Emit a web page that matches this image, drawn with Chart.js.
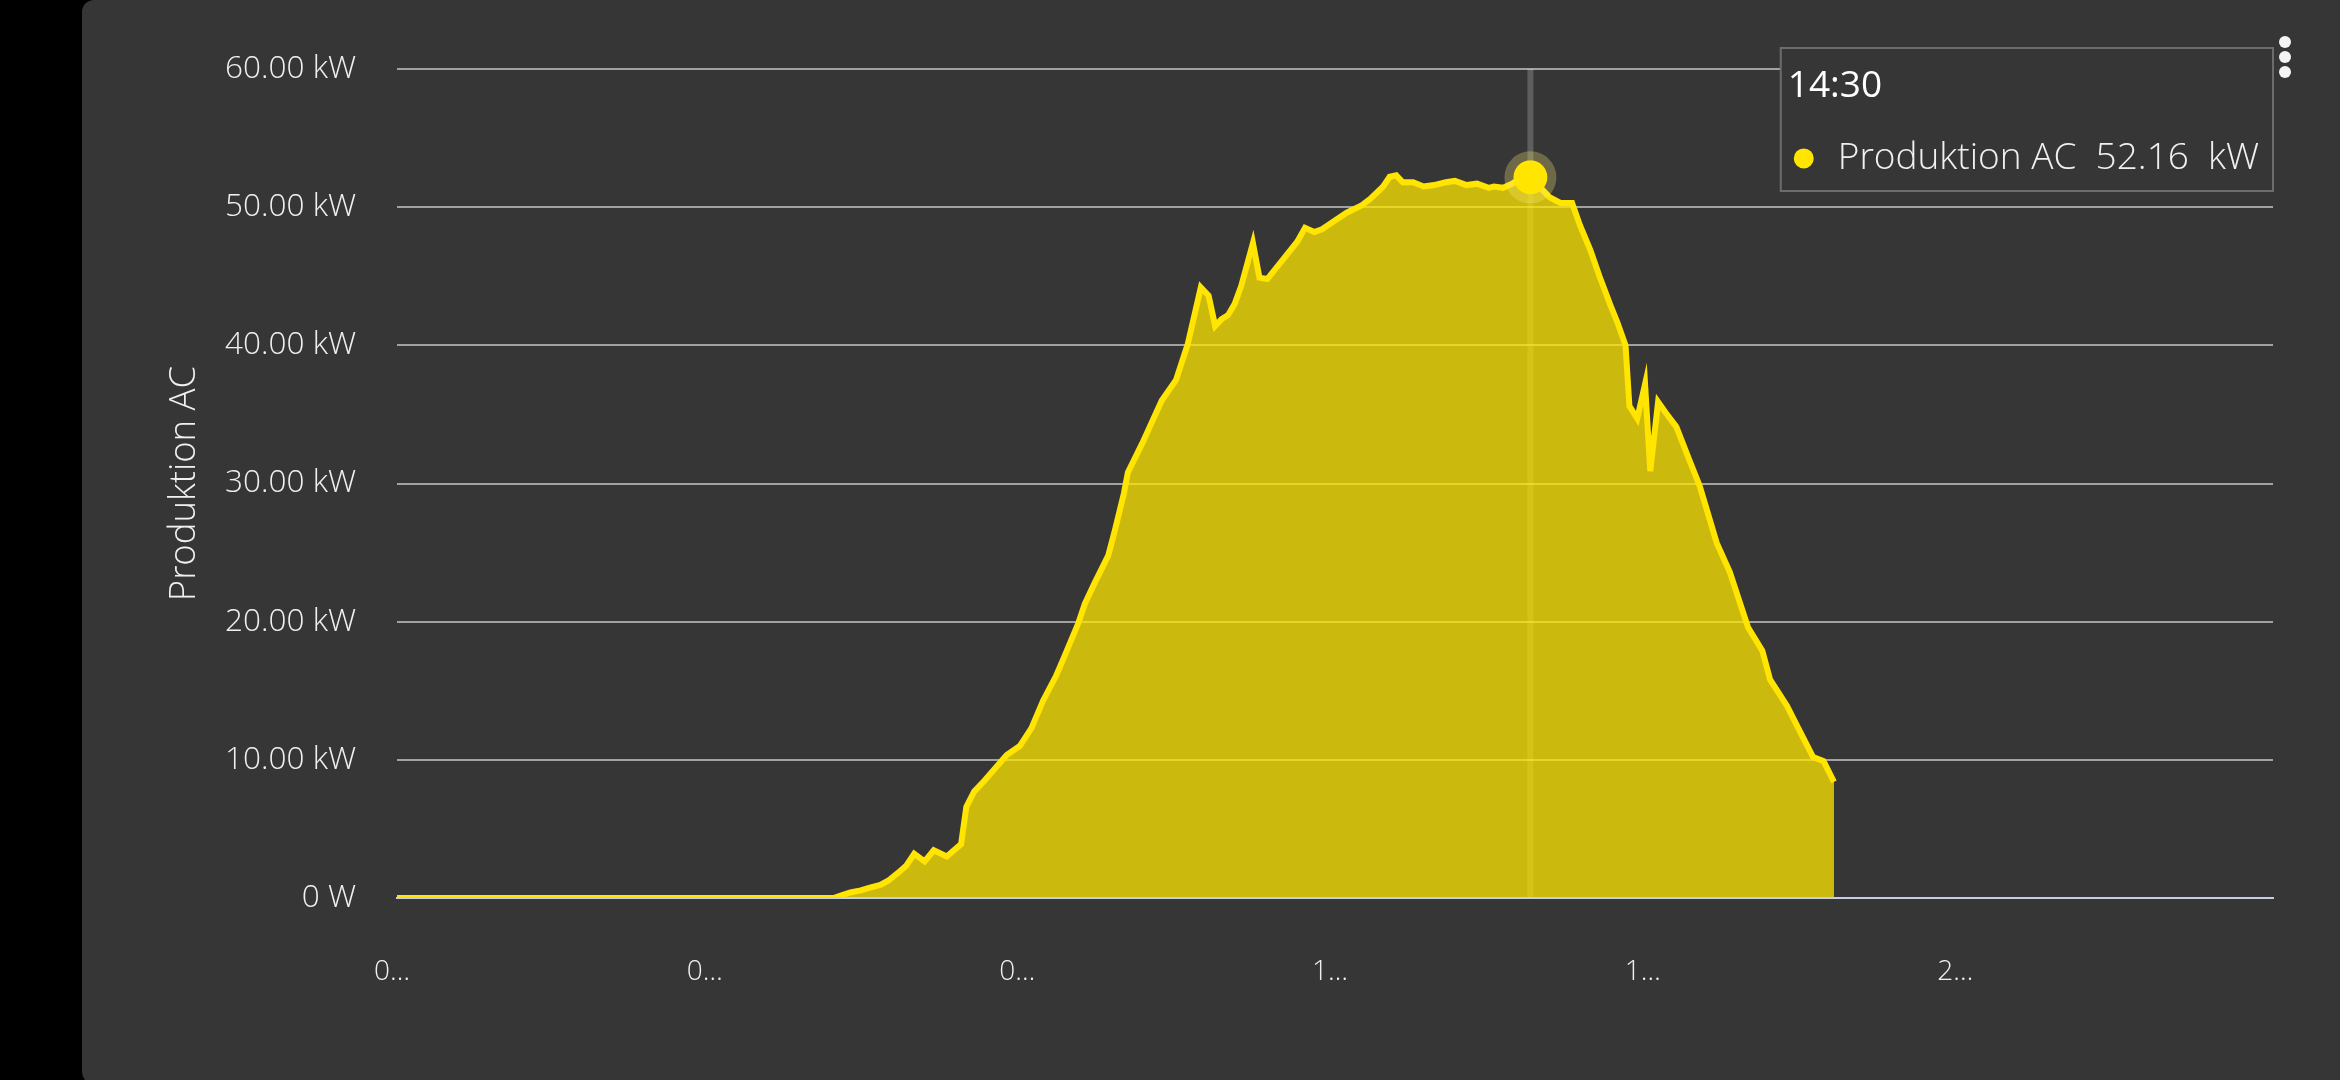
<!DOCTYPE html>
<html>
<head>
<meta charset="utf-8">
<title>Produktion AC</title>
<script src="https://cdn.jsdelivr.net/npm/chart.js@4.4.1/dist/chart.umd.min.js"></script>
<style>
  html, body { margin: 0; padding: 0; background: #000; overflow: hidden; }
  body { width: 2340px; height: 1080px; position: relative; font-family: "Open Sans", sans-serif; }
  .card { position: absolute; left: 82px; top: 0; width: 2258px; height: 1084px; background: #363636; border-radius: 12px 0 0 12px; }
  #chart { position: absolute; left: 0; top: 0; }
  .menu span { position: absolute; width: 12px; height: 12px; border-radius: 50%; background: #f4f4f4; }
</style>
</head>
<body>
<div class="card">
  <canvas id="chart" width="2258" height="1080"></canvas>
  <div class="menu">
    <span style="left:2197px; top:36px"></span>
    <span style="left:2197px; top:51px"></span>
    <span style="left:2197px; top:66px"></span>
  </div>
</div>
<script>
// Messzeitpunkte (HH:MM) und Leistung in kW
const times = [
  '00:00', '05:35', '05:40', '05:48', '05:56', '06:03', '06:11', '06:17', '06:25', '06:31',
  '06:37', '06:45', '06:52', '07:02', '07:13', '07:17', '07:23', '07:31', '07:48', '07:58',
  '08:07', '08:16', '08:26', '08:31', '08:43', '08:48', '08:56', '09:06', '09:11', '09:18',
  '09:21', '09:32', '09:47', '09:58', '10:07', '10:17', '10:23', '10:28', '10:33', '10:38',
  '10:43', '10:48', '10:57', '11:02', '11:08', '11:20', '11:31', '11:37', '11:44', '11:50',
  '11:58', '12:09', '12:20', '12:27', '12:37', '12:42', '12:47', '12:52', '13:00', '13:08',
  '13:16', '13:25', '13:32', '13:41', '13:49', '13:58', '14:02', '14:09', '14:16', '14:19',
  '14:30', '14:45', '14:53', '15:02', '15:08', '15:16', '15:23', '15:31', '15:37', '15:43',
  '15:46', '15:52', '15:58', '16:02', '16:08', '16:14', '16:22', '16:32', '16:40', '16:53',
  '17:03', '17:17', '17:28', '17:34', '17:47', '17:55', '18:07', '18:15', '18:23'
];
const power = [
  0, 0, 0.15, 0.4, 0.55, 0.75, 0.95, 1.25, 1.85, 2.35,
  3.2, 2.65, 3.45, 3.0, 3.9, 6.6, 7.7, 8.5, 10.35, 11.0,
  12.3, 14.3, 16.1, 17.2, 19.9, 21.3, 22.9, 24.8, 26.6, 29.3,
  30.8, 32.9, 36.0, 37.5, 40.1, 44.2, 43.6, 41.4, 41.9, 42.2,
  43.0, 44.3, 47.4, 44.9, 44.8, 46.2, 47.5, 48.5, 48.2, 48.4,
  48.9, 49.6, 50.1, 50.6, 51.5, 52.2, 52.3, 51.8, 51.8, 51.5,
  51.6, 51.8, 51.9, 51.6, 51.7, 51.4, 51.5, 51.4, 51.7, 51.9,
  52.16, 50.7, 50.3, 50.3, 48.7, 46.9, 45.0, 43.0, 41.6, 40.0,
  35.6, 34.7, 37.2, 30.9, 35.9, 35.1, 34.1, 31.7, 29.8, 25.7,
  23.6, 19.6, 17.9, 15.8, 13.9, 12.4, 10.2, 9.9, 8.4
];
const xTickLabels = ['00:00', '04:00', '08:00', '12:00', '16:00', '20:00'];
const yTicks = [0, 10, 20, 30, 40, 50, 60];
const seriesLabel = 'Produktion AC';
const hoverTime = '14:30';

const toHours = t => { const p = t.split(':'); return +p[0] + p[1] / 60; };
const points = times.map((t, i) => ({ x: toHours(t), y: power[i] }));

// Achsenbeschriftung wird wie in der App auf ein Zeichen gekürzt
const shorten = s => s.slice(0, 1) + '…';
const fmtPower = v => v === 0 ? '0 W' : v.toFixed(2) + ' kW';

const FONT = 'Open Sans';
const YELLOW = '#ffe500';
const TEXT = '#f0f0f0';

Chart.Tooltip.positioners.topRight = function () {
  const a = this.chart.chartArea;
  return { x: a.right, y: a.top - 21, xAlign: 'right', yAlign: 'top' };
};

// senkrechte Linie + Halo am aktiven Punkt
const hoverMarker = {
  id: 'hoverMarker',
  beforeDatasetsDraw(chart) {
    const act = chart.getActiveElements();
    if (!act.length) return;
    const ctx = chart.ctx, a = chart.chartArea;
    ctx.save();
    ctx.strokeStyle = 'rgba(255,255,255,0.2)';
    ctx.lineWidth = 6;
    ctx.beginPath();
    ctx.moveTo(act[0].element.x, a.top);
    ctx.lineTo(act[0].element.x, a.bottom);
    ctx.stroke();
    ctx.restore();
  },
  afterDatasetsDraw(chart) {
    const act = chart.getActiveElements();
    if (!act.length) return;
    const ctx = chart.ctx, el = act[0].element;
    ctx.save();
    ctx.strokeStyle = 'rgba(255,240,120,0.28)';
    ctx.lineWidth = 9;
    ctx.beginPath();
    ctx.arc(el.x, el.y, 21.5, 0, Math.PI * 2);
    ctx.stroke();
    ctx.restore();
  }
};

const chart = new Chart(document.getElementById('chart'), {
  type: 'line',
  data: {
    datasets: [{
      label: seriesLabel,
      data: points,
      borderColor: YELLOW,
      backgroundColor: 'rgba(255,229,0,0.75)',
      borderWidth: 6,
      fill: 'origin',
      tension: 0,
      pointRadius: 0,
      pointHoverRadius: 17,
      pointHoverBorderWidth: 0,
      pointHoverBackgroundColor: YELLOW,
      pointHitRadius: 0
    }]
  },
  options: {
    responsive: false,
    devicePixelRatio: 1,
    animation: false,
    events: [],
    layout: { padding: { left: 0, right: 67, top: 69, bottom: 0 } },
    scales: {
      x: {
        type: 'linear',
        min: 0,
        max: 24,
        afterFit: s => { s.height = 182; },
        grid: { display: false, drawTicks: false },
        border: { display: true, color: '#c9cde2', width: 2, z: 1 },
        ticks: {
          stepSize: 4,
          autoSkip: false,
          maxRotation: 0,
          padding: 57,
          labelOffset: -5,
          color: TEXT,
          font: { family: FONT, size: 28, weight: 300 },
          callback: v => v < 24 ? shorten(xTickLabels[v / 4]) : ''
        }
      },
      y: {
        min: yTicks[0],
        max: yTicks[yTicks.length - 1],
        afterFit: s => { s.width = 315; },
        afterBuildTicks: s => { s.ticks = yTicks.map(v => ({ value: v })); },
        grid: { color: '#a2a2a2', lineWidth: 2, drawTicks: false },
        border: { display: false },
        ticks: {
          padding: 41,
          color: TEXT,
          font: { family: FONT, size: 31.5, weight: 300 },
          callback: v => fmtPower(v)
        },
        title: {
          display: true,
          text: seriesLabel,
          color: TEXT,
          padding: { top: 81, bottom: 0 },
          font: { family: FONT, size: 36.5, weight: 300 }
        }
      }
    },
    plugins: {
      legend: { display: false },
      tooltip: {
        enabled: true,
        position: 'topRight',
        xAlign: 'right',
        yAlign: 'top',
        caretSize: 0,
        caretPadding: 0,
        cornerRadius: 0,
        backgroundColor: '#363636',
        borderColor: '#6c6c6c',
        borderWidth: 2,
        padding: { top: 16.5, left: 7, right: 14, bottom: 10.5 },
        titleMarginBottom: 27.3,
        titleColor: '#ffffff',
        titleFont: { family: FONT, size: 37, weight: 400 },
        bodyColor: TEXT,
        bodyFont: { family: FONT, size: 37, weight: 300 },
        displayColors: true,
        usePointStyle: true,
        boxWidth: 32,
        boxHeight: 18,
        boxPadding: 16,
        multiKeyBackground: 'rgba(0,0,0,0)',
        callbacks: {
          title: items => times[items[0].dataIndex],
          label: item => item.dataset.label + '  ' + item.parsed.y.toFixed(2) + '  kW',
          labelColor: () => ({ borderColor: YELLOW, backgroundColor: YELLOW }),
          labelPointStyle: () => ({ pointStyle: 'circle', rotation: 0 })
        }
      }
    }
  },
  plugins: [hoverMarker]
});

// Tooltip fest auf 14:30 setzen
const idx = times.indexOf(hoverTime);
const el = chart.getDatasetMeta(0).data[idx];
chart.setActiveElements([{ datasetIndex: 0, index: idx }]);
chart.tooltip.setActiveElements([{ datasetIndex: 0, index: idx }], { x: el.x, y: el.y });
chart.draw();
</script>
</body>
</html>
